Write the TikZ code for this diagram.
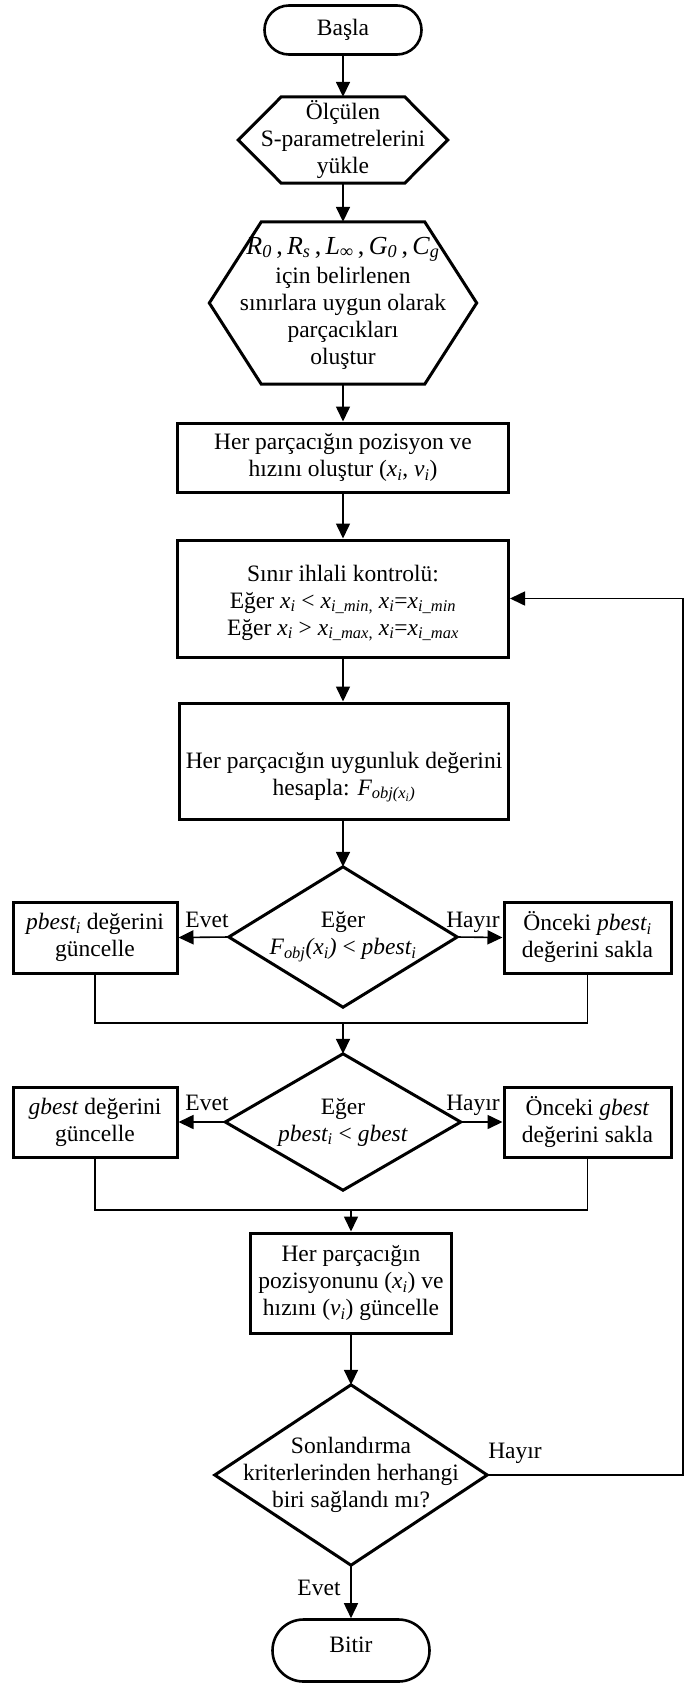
\documentclass[tikz,border=0pt]{standalone}
\usepackage{fontspec}
\setmainfont{Liberation Serif}
\usetikzlibrary{arrows.meta,calc}
\newcommand{\ix}[2]{\textit{#1}\textsubscript{\textit{#2}}}
\begin{document}
\begin{tikzpicture}[x=1pt,y=-1pt,
  every node/.style={font=\fontsize{23.5}{27}\selectfont, align=center, inner sep=0pt},
  term/.style={draw, line width=2.6pt, minimum width=157pt},
  proc/.style={draw, line width=3pt},
  anch/.style={inner sep=0pt},
  shapeline/.style={line width=3pt},
  conn/.style={line width=1.6pt, -{Triangle[length=15pt,width=14pt]}},
  merge/.style={line width=1.3pt},
  lbl/.style={anchor=base}]
\fill[white] (0,0) rectangle (684,1684);

% start
\node[term, rounded corners=24.5pt, minimum height=49pt] (basla) at (343,30) {Başla};

% hexagon 1
\node[anch, minimum width=209pt, minimum height=86pt] (hexA) at (343,140) {Ölçülen\\S-parametrelerini\\yükle};
\draw[shapeline] (hexA.west) -- ($(hexA.north west)+(43,0)$) -- ($(hexA.north east)+(-43,0)$) -- (hexA.east) -- ($(hexA.south east)+(-43,0)$) -- ($(hexA.south west)+(43,0)$) -- cycle;

% hexagon 2
\node[anch, minimum width=267pt, minimum height=162pt] (hexB) at (343,303) {{\fontsize{26}{28}\selectfont\ix{R}{0}\,,\,\ix{R}{s}\,,\,\ix{L}{∞}\,,\,\ix{G}{0}\,,\,\ix{C}{g}}\\[2pt]için belirlenen\\sınırlara uygun olarak\\parçacıkları\\oluştur};
\draw[shapeline] (hexB.west) -- ($(hexB.north west)+(52,0)$) -- ($(hexB.north east)+(-52,0)$) -- (hexB.east) -- ($(hexB.south east)+(-52,0)$) -- ($(hexB.south west)+(52,0)$) -- cycle;

% boxes
\node[proc, minimum width=331pt, minimum height=69pt] (box1) at (343,457.5) {Her parçacığın pozisyon ve\\hızını oluştur (\ix{x}{i}, \ix{v}{i})};
\node[proc, minimum width=331pt, minimum height=117pt] (box2) at (343,598.5) {};
\node (box2t) at (343,603) {Sınır ihlali kontrolü:\\Eğer \ix{x}{i} < \textit{x}\textsubscript{\textit{i\_min},} \ix{x}{i}=\textit{x}\textsubscript{\textit{i\_min}}\\Eğer \ix{x}{i} > \textit{x}\textsubscript{\textit{i\_max},} \ix{x}{i}=\textit{x}\textsubscript{\textit{i\_max}}};
\node[proc, minimum width=329pt, minimum height=116pt] (box3) at (344,761) {};
\node (box3t) at (344,777) {Her parçacığın uygunluk değerini\\hesapla: \textit{F\textsubscript{obj(x\textsubscript{i})}}};

% decision 1
\node[anch, minimum width=228pt, minimum height=140pt] (d1) at (343,937) {Eğer\\\textit{F\textsubscript{obj}(x\textsubscript{i})} < \textit{pbest\textsubscript{i}}};
\draw[shapeline] (d1.north) -- (d1.east) -- (d1.south) -- (d1.west) -- cycle;
\node[proc, minimum width=164pt, minimum height=71pt] (pb) at (95,937.5) {\textit{pbest\textsubscript{i}} değerini\\güncelle};
\node[proc, minimum width=167pt, minimum height=71pt] (pbk) at (587.5,937.5) {Önceki \textit{pbest\textsubscript{i}}\\değerini sakla};

% decision 2
\node[anch, minimum width=235pt, minimum height=136pt] (d2) at (343,1122) {Eğer\\\textit{pbest\textsubscript{i}} < \textit{gbest}};
\draw[shapeline] (d2.north) -- (d2.east) -- (d2.south) -- (d2.west) -- cycle;
\node[proc, minimum width=164pt, minimum height=70pt] (gb) at (95,1122) {\textit{gbest} değerini\\güncelle};
\node[proc, minimum width=167pt, minimum height=70pt] (gbk) at (587.5,1122) {Önceki \textit{gbest}\\değerini sakla};

% update box
\node[proc, minimum width=201pt, minimum height=100pt] (box4) at (351,1283) {Her parçacığın\\pozisyonunu (\ix{x}{i}) ve\\hızını (\ix{v}{i}) güncelle};

% decision 3
\node[anch, minimum width=272pt, minimum height=180pt] (d3) at (351,1475) {Sonlandırma\\kriterlerinden herhangi\\biri sağlandı mı?};
\draw[shapeline] (d3.north) -- (d3.east) -- (d3.south) -- (d3.west) -- cycle;

% end
\node[term, rounded corners=31pt, minimum height=62pt] (bitir) at (351,1650.5) {};
\node (bitirt) at (351,1644.5) {Bitir};

% connectors
\draw[conn] (basla.south) -- (hexA.north);
\draw[conn] (hexA.south) -- (hexB.north);
\draw[conn] (hexB.south) -- (box1.north);
\draw[conn] (box1.south) -- (box2.north);
\draw[conn] (box2.south) -- (box2.south |- box3.north);
\draw[conn] (box3.south -| d1.north) -- (d1.north);
\draw[conn] (d1.west) -- (pb.east);
\draw[conn] (d1.east) -- (pbk.east -| pbk.west);
\node[lbl] (ev1) at (207,927) {Evet};
\node[lbl] (hy1) at (473,927) {Hayır};
\coordinate (m1) at (343,1023);
\draw[merge] (pb.south) |- (m1) -| (pbk.south);
\draw[conn] (m1) -- (d2.north);
\draw[conn] (d2.west) -- (gb.east);
\draw[conn] (d2.east) -- (gbk.west);
\node[lbl] (ev2) at (207,1110) {Evet};
\node[lbl] (hy2) at (473,1110) {Hayır};
\coordinate (m2) at (351,1210);
\draw[merge] (gb.south) |- (m2) -| (gbk.south);
\draw[conn] (m2) -- (box4.north);
\draw[conn] (box4.south) -- (d3.north);
\draw[conn] (d3.south) -- (bitir.north);
\node[lbl] (ev3) at (319,1595) {Evet};
\node[lbl] (hy3) at (515,1458) {Hayır};
\coordinate (rt) at (683,0);
\draw[conn] (d3.east) -| (rt |- box2.east) -- (box2.east);
\end{tikzpicture}
\end{document}
